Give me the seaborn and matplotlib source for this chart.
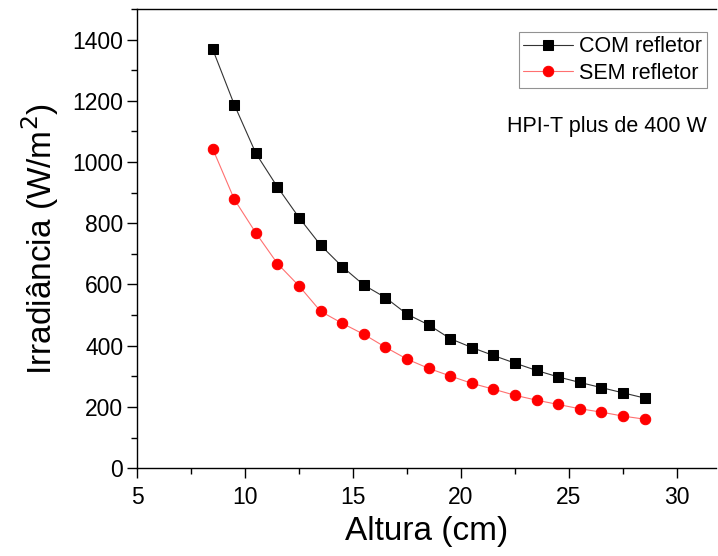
import numpy as np
import pandas as pd
import matplotlib
matplotlib.use("Agg")
import matplotlib.pyplot as plt
from matplotlib.ticker import MultipleLocator
import seaborn as sns

sns.set_style("ticks")
plt.rcParams["font.family"] = ["Liberation Sans", "DejaVu Sans"]
plt.rcParams["text.color"] = "black"
plt.rcParams["axes.labelcolor"] = "black"
plt.rcParams["xtick.color"] = "black"
plt.rcParams["ytick.color"] = "black"
plt.rcParams["axes.edgecolor"] = "black"

# dados
altura = [8.5, 9.5, 10.5, 11.5, 12.5, 13.5, 14.5, 15.5, 16.5, 17.5, 18.5,
          19.5, 20.5, 21.5, 22.5, 23.5, 24.5, 25.5, 26.5, 27.5, 28.5]
com_refletor = [1368, 1187, 1028, 918, 818, 728, 658, 598, 557, 503, 468,
                423, 394, 368, 343, 319, 298, 280, 263, 246, 229]
sem_refletor = [1043, 878, 768, 668, 595, 512, 473, 437, 395, 356, 326,
                301, 277, 258, 238, 222, 208, 194, 183, 170, 160]

df = pd.DataFrame({"altura": altura, "com": com_refletor, "sem": sem_refletor})

fig = plt.figure(figsize=(7.18, 5.56), dpi=100)
ax = fig.add_axes([0.191, 0.158, 0.806, 0.826])

sns.lineplot(data=df, x="altura", y="com", ax=ax, color="#333333", lw=0.8,
             marker="s", markersize=6.5, markeredgecolor="black",
             markerfacecolor="black", label="COM refletor")
sns.lineplot(data=df, x="altura", y="sem", ax=ax, color="#ff7070", lw=0.8,
             marker="o", markersize=7.5, markeredgecolor="red",
             markerfacecolor="red", label="SEM refletor")

ax.set_xlim(5, 31.8)
ax.set_ylim(0, 1500)
ax.xaxis.set_major_locator(MultipleLocator(5))
ax.xaxis.set_minor_locator(MultipleLocator(2.5))
ax.yaxis.set_major_locator(MultipleLocator(200))
ax.yaxis.set_minor_locator(MultipleLocator(100))
ax.tick_params(which="major", length=7, width=1, labelsize=16.5, direction="out")
ax.tick_params(which="minor", length=4, width=1, direction="out")
ax.tick_params(axis="x", pad=6)
ax.tick_params(axis="y", pad=3)
for s in ax.spines.values():
    s.set_linewidth(1.0)
ax.spines["right"].set_visible(False)

ax.set_xlabel("Altura (cm)", fontsize=24, labelpad=5)
ax.set_ylabel("Irradiância (W/m$^2$)", fontsize=24, labelpad=8)

leg = ax.legend(loc="upper right", bbox_to_anchor=(0.984, 0.95), fontsize=15.5,
                frameon=True, fancybox=False, edgecolor="#777777",
                numpoints=1, handlelength=2.3, borderpad=0.2, labelspacing=0.25,
                handletextpad=0.3, borderaxespad=0)
leg.get_frame().set_linewidth(0.8)

ax.text(0.984, 0.743, "HPI-T plus de 400 W", transform=ax.transAxes,
        ha="right", va="center", fontsize=15.5)

fig.savefig("out.png", dpi=100)
